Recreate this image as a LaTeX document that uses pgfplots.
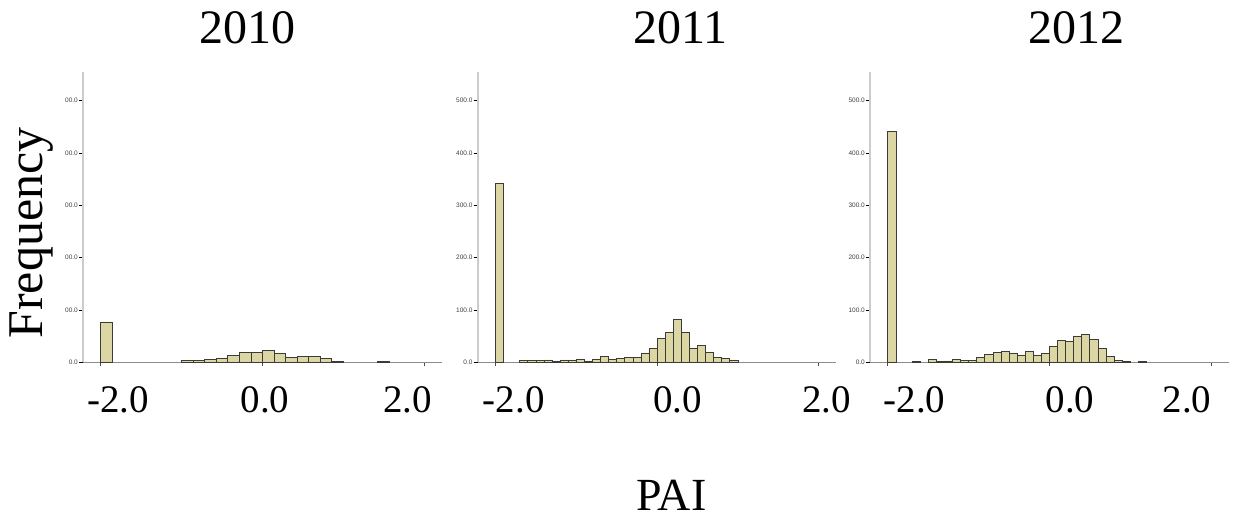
\documentclass[border=0pt]{standalone}
\usepackage{fontspec}
\setmainfont{Liberation Serif}
\newfontfamily\sansf{Liberation Sans}
\usepackage{pgfplots}
\pgfplotsset{compat=1.18}
\definecolor{barfill}{RGB}{220,214,164}
\definecolor{baredge}{RGB}{60,60,55}
\pgfplotsset{
 histo/.style={
  scale only axis, width=358.7pt, height=290.6pt,
  anchor=south west,
  xmin=-2.22, xmax=2.22, ymin=0, ymax=555,
  axis x line*=bottom, axis y line*=left,
  x axis line style={-, draw=black!45, line width=0.8pt},
  y axis line style={-, draw=black!20, line width=2pt},
  ytick={0,100,200,300,400,500},
  yticklabel style={font=\sansf\fontsize{6.5}{7}\selectfont, text=black!75, inner sep=1pt},
  ytick style={draw=black, line width=0.6pt},
  tick align=outside, major tick length=4pt,
  xtick={-2,0,2}, xticklabels={},
  xtick style={draw=black!70, line width=0.6pt},
  extra x tick style={major tick length=0pt, tick label style={font=\fontsize{39}{40}\selectfont, yshift=-21pt}},
  extra x tick labels={-2.0,0.0,2.0},
  title style={font=\fontsize{48}{50}\selectfont, anchor=base, yshift=22pt},
 },
 bars/.style={ybar, bar shift=0pt, fill=barfill, draw=baredge, line width=0.6pt},
}
\begin{document}
\begin{tikzpicture}
\useasboundingbox (0,0) rectangle (1247pt,519pt);
% 2010
\begin{axis}[histo, at={(83pt,156.7pt)},
  title={2010}, title style={at={(0.4586,1)}},
  yticklabels={0.0,00.0,00.0,00.0,00.0,00.0},
  extra x ticks={-1.786,0.033,1.797},
  ylabel={Frequency},
  ylabel style={font=\fontsize{50}{52}\selectfont, at={(axis description cs:-0.1124,0.445)}, anchor=base, inner sep=0pt}]
\addplot[bars, bar width=0.142857] coordinates {
(-1.9286,77) (-0.9286,3) (-0.7857,3) (-0.6429,6) (-0.5,8) (-0.3571,13)
(-0.2143,19) (-0.0714,19) (0.0714,22) (0.2143,17) (0.3571,10) (0.5,11)
(0.6429,11) (0.7857,7) (0.9286,2) (1.5,2)};
\end{axis}
% 2011
\begin{axis}[histo, at={(477.7pt,156.7pt)},
  title={2011}, title style={at={(0.566,1)}},
  yticklabels={0.0,100.0,200.0,300.0,400.0,500.0},
  extra x ticks={-1.773,0.256,2.1},
  xlabel={PAI},
  xlabel style={font=\fontsize{46}{48}\selectfont, at={(axis description cs:0.540,-0.511)}, anchor=base, inner sep=0pt, text depth=0pt}]
\addplot[bars, bar width=0.1] coordinates {
(-1.95,342) (-1.65,4) (-1.55,4) (-1.45,4) (-1.35,4.5) (-1.25,2.5) (-1.15,4.5)
(-1.05,4.5) (-0.95,6.4) (-0.85,2.5) (-0.75,6.4) (-0.65,11.5) (-0.55,5.7)
(-0.45,7.6) (-0.35,9.5) (-0.25,10) (-0.15,18) (-0.05,27) (0.05,45) (0.15,57)
(0.25,82) (0.35,57) (0.45,27) (0.55,33) (0.65,19) (0.75,9) (0.85,7) (0.95,4.5)};
\end{axis}
% 2012
\begin{axis}[histo, at={(870pt,156.7pt)},
  title={2012}, title style={at={(0.575,1)}},
  yticklabels={0.0,100.0,200.0,300.0,400.0,500.0},
  extra x ticks={-1.668,0.256,1.704}]
\addplot[bars, bar width=0.1] coordinates {
(-1.95,441) (-1.65,1.3) (-1.45,5) (-1.35,2) (-1.25,2.5) (-1.15,5) (-1.05,3.8)
(-0.95,3.8) (-0.85,9.5) (-0.75,14.6) (-0.65,18.5) (-0.55,20.4) (-0.45,17.8)
(-0.35,14) (-0.25,21) (-0.15,14) (-0.05,16.6) (0.05,30.6) (0.15,41.4)
(0.25,40) (0.35,50.3) (0.45,53.5) (0.55,43.3) (0.65,26) (0.75,10.8)
(0.85,3.2) (0.95,2) (1.15,2)};
\end{axis}
\end{tikzpicture}
\end{document}
